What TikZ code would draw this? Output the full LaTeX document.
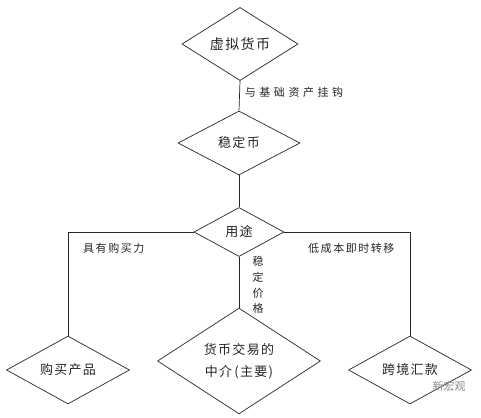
\documentclass[tikz,border=0pt]{standalone}
\usepackage{fontspec}
\setmainfont{Noto Sans CJK SC}
\newfontfamily\cjk[LetterSpace=10]{Noto Sans CJK SC}
\newfontfamily\cjkl[LetterSpace=14]{Noto Sans CJK SC}
\newfontfamily\cjkw[LetterSpace=32]{Noto Sans CJK SC}
\usetikzlibrary{shapes.geometric}
\begin{document}
\begin{tikzpicture}[x=1pt,y=-1pt,
  dia/.style={draw=black!85, line width=0.7pt, shape=diamond, inner sep=0pt, aspect=1,
    font=\cjk\fontsize{13}{22}\selectfont, text=black!85, align=center},
  conn/.style={draw=black!85, line width=0.7pt},
  lbl/.style={font=\cjkl\fontsize{11}{13}\selectfont, text=black!85, inner sep=0pt}]
\useasboundingbox[fill=white] (0,0) rectangle (481,417);
\node[dia, minimum width=116pt, minimum height=62pt, font=\cjk\fontsize{14}{16}\selectfont] (xn) at (240,44) {虚拟货币};
\node[dia, minimum width=122pt, minimum height=64pt] (st) at (239,143) {稳定币};
\node[dia, minimum width=90pt, minimum height=49pt] (yt) at (239,232) {用途};
\node[dia, minimum width=123pt, minimum height=67pt] (gm) at (68,370) {购买产品};
\node[dia, minimum width=163pt, minimum height=87pt] (zj) at (239,361) {货币交易的\\中介\,(主要)};
\node[dia, minimum width=123pt, minimum height=67pt] (kj) at (410,370) {跨境汇款};
\draw[conn] (xn.south) -- node[lbl, font=\cjkw\fontsize{11}{13}\selectfont, anchor=west, pos=0.4, xshift=5pt] (l1) {与基础资产挂钩} (st.north);
\draw[conn] (st.south) -- (yt.north);
\draw[conn] (yt.west) -| (gm.north);
\draw[conn] (yt.east) -| (kj.north);
\draw[conn] (yt.south) -- (zj.north);
\node[lbl, anchor=west] (l2) at (83,248) {具有购买力};
\node[lbl, anchor=west] (l3) at (308,248) {低成本即时转移};
\node[lbl, align=center, font=\cjkl\fontsize{11}{15.6}\selectfont] (l4) at (258,285) {稳\\定\\价\\格};
\node[font=\fontsize{11}{13}\selectfont, text=black!45, inner sep=0pt] (wm) at (449,386) {新宏观};
\end{tikzpicture}
\end{document}
